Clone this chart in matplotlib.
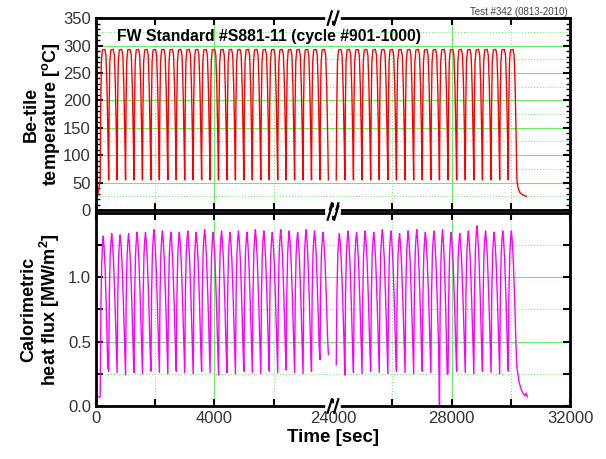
import matplotlib
matplotlib.use("Agg")
import matplotlib.pyplot as plt
import numpy as np

plt.rcParams['font.family'] = ['Liberation Sans', 'DejaVu Sans']

# cycle start times [sec]
left_starts = [150, 435, 720, 1005, 1290, 1575, 1860, 2145, 2430, 2715, 3000,
               3285, 3570, 3855, 4140, 4425, 4710, 4995, 5280, 5565, 5850,
               6135, 6420, 6705, 6990, 7275, 7560]
left_end = 7845
right_starts = [24110, 24400, 24690, 24980, 25270, 25560, 25850, 26140, 26430,
                26720, 27010, 27300, 27590, 27880, 28170, 28460, 28750, 29040,
                29330, 29620, 29910]
right_end = 30200

# one cycle profile (fraction of period)
temp_phase = [0.0, 0.06, 0.14, 0.26, 0.55, 0.68, 0.80, 0.92, 1.0]
temp_shape = [55, 190, 270, 292, 293, 282, 225, 130, 55]
flux_phase = [0.0, 0.08, 0.18, 0.28, 0.36, 0.46, 0.58, 0.74, 0.90, 1.0]
flux_shape = [0.0, 0.55, 0.84, 0.95, 1.0, 0.93, 0.80, 0.52, 0.18, 0.0]

# heat flux peak / trough per cycle
left_peaks = [1.32, 1.34, 1.33, 1.34, 1.35, 1.35, 1.37, 1.36, 1.35, 1.35, 1.36,
              1.35, 1.37, 1.35, 1.36, 1.35, 1.36, 1.35, 1.37, 1.36, 1.35,
              1.37, 1.36, 1.35, 1.37, 1.36, 1.35]
left_troughs = [0.07, 0.27, 0.26, 0.24, 0.26, 0.25, 0.27, 0.26, 0.25, 0.27, 0.26,
                0.25, 0.27, 0.26, 0.24, 0.26, 0.25, 0.27, 0.26, 0.25, 0.27,
                0.26, 0.28, 0.26, 0.25, 0.27, 0.36]
right_peaks = [1.34, 1.36, 1.35, 1.36, 1.35, 1.37, 1.36, 1.34, 1.36, 1.37, 1.35,
               1.36, 1.37, 1.35, 1.34, 1.36, 1.40, 1.36, 1.35, 1.36, 1.36]
right_troughs = [0.32, 0.24, 0.26, 0.25, 0.27, 0.26, 0.25, 0.27, 0.26, 0.25, 0.27,
                 0.26, 0.0, 0.25, 0.27, 0.26, 0.25, 0.27, 0.26, 0.25, 0.27]

# start / end pieces
temp_pre_t = [0, 60, 150]
temp_pre_v = [25, 25, 55]
temp_tail_t = [30200, 30240, 30300, 30380, 30460, 30520]
temp_tail_v = [55, 40, 32, 28, 26, 25]
flux_pre_t = [0, 60, 150]
flux_pre_v = [0.07, 0.07, 0.07]
flux_tail_t = [30200, 30280, 30360, 30430, 30480, 30520, 30550]
flux_tail_v = [0.30, 0.18, 0.12, 0.09, 0.08, 0.10, 0.07]

GAP = 16000  # 8000 -> 24000 axis break


def build(starts, end, phase, shape, base=None, amp=None):
    t, v = [], []
    stops = starts[1:] + [end]
    for i, (s, e) in enumerate(zip(starts, stops)):
        ph = np.array(phase)
        sh = np.array(shape, dtype=float)
        if base is not None:
            lo = base[i]
            sh = sh * (amp[i] - lo) + lo
        t.extend(s + ph[:-1] * (e - s))
        v.extend(sh[:-1])
    return np.array(t), np.array(v)


tl, vl = build(left_starts, left_end, temp_phase, temp_shape)
tr, vr = build(right_starts, right_end, temp_phase, temp_shape)
temp_left_t = np.concatenate([temp_pre_t, tl, [left_end]])
temp_left_v = np.concatenate([temp_pre_v, vl, [55]])
temp_right_t = np.concatenate([tr, temp_tail_t]) - GAP
temp_right_v = np.concatenate([vr, temp_tail_v])

fl_t, fl_v = build(left_starts, left_end, flux_phase, flux_shape, left_troughs, left_peaks)
fr_t, fr_v = build(right_starts, right_end, flux_phase, flux_shape, right_troughs, right_peaks)
flux_left_t = np.concatenate([flux_pre_t, fl_t, [left_end]])
flux_left_v = np.concatenate([flux_pre_v, fl_v, [0.40]])
flux_right_t = np.concatenate([fr_t, flux_tail_t]) - GAP
flux_right_v = np.concatenate([fr_v, flux_tail_v])

fig = plt.figure(figsize=(6.06, 4.59), dpi=100)
ax1 = fig.add_axes([0.158, 0.5425, 0.783, 0.418])
ax2 = fig.add_axes([0.158, 0.1155, 0.783, 0.4205])

ax1.plot(temp_left_t, temp_left_v, color='#ff0000', lw=1.0)
ax1.plot(temp_right_t, temp_right_v, color='#ff0000', lw=1.0)
ax2.plot(flux_left_t, flux_left_v, color='#ff00ff', lw=1.0)
ax2.plot(flux_right_t, flux_right_v, color='#ff00ff', lw=1.0)

xticks = [0, 2000, 4000, 6000, 8000, 10000, 12000, 14000, 16000]
xlabels = ['0', '', '4000', '', '24000', '', '28000', '', '32000']
green = '#66ee66'

for ax in (ax1, ax2):
    ax.set_xlim(0, 16000)
    ax.set_xticks(xticks)
    for x in [4000, 12000]:
        ax.axvline(x, color=green, lw=0.8, zorder=0)
    for x in [2000, 6000, 10000, 14000]:
        ax.axvline(x, color=green, lw=0.7, ls=(0, (1, 2)), zorder=0)
    ax.tick_params(direction='in', top=True, right=True, length=5, width=1.5,
                   labelsize=12, labelcolor='#333333')
    ax.tick_params(which='minor', direction='in', top=False, right=True,
                   left=True, length=3, width=1)
    for sp in ax.spines.values():
        sp.set_linewidth(2)

ax1.set_xticklabels([])
ax2.set_xticklabels(xlabels)

ax1.set_ylim(0, 350)
ax1.set_yticks(np.arange(0, 351, 50))
ax1.set_yticks(np.arange(0, 351, 10), minor=True)
for y in range(50, 350, 50):
    ax1.axhline(y, color=green, lw=0.8, zorder=0)
for y in range(25, 350, 50):
    ax1.axhline(y, color=green, lw=0.7, ls=(0, (1, 2)), zorder=0)

ax2.set_ylim(0, 1.5)
ax2.set_yticks([0.0, 0.5, 1.0])
ax2.set_yticklabels(['0.0', '0.5', '1.0'])
ax2.set_yticks([0.25, 0.75, 1.25], minor=True)
ax2.tick_params(which='minor', length=5, width=1.5)
for y in [0.5, 1.0]:
    ax2.axhline(y, color=green, lw=0.8, zorder=0)
for y in [0.25, 0.75, 1.25]:
    ax2.axhline(y, color=green, lw=0.7, ls=(0, (1, 2)), zorder=0)

ax1.set_ylabel('Be-tile\ntemperature [$^{\\mathregular{o}}$C]', fontsize=13,
               fontweight='bold', linespacing=1.0)
ax2.set_ylabel('Calorimetric\nheat flux [MW/m$^{\\mathregular{2}}$]', fontsize=13,
               fontweight='bold', linespacing=1.0)
ax2.set_xlabel('Time [sec]', fontsize=13.5, fontweight='bold', labelpad=2)
ax1.yaxis.set_label_coords(-0.072, 0.5)
ax2.yaxis.set_label_coords(-0.072, 0.5)

ax1.text(0.045, 0.905, 'FW Standard #S881-11 (cycle #901-1000)', transform=ax1.transAxes,
         fontsize=11.3, fontweight='bold', va='center')
fig.text(0.937, 0.985, 'Test #342 (0813-2010)', fontsize=7, color='#444444',
         ha='right', va='top')

# axis break marks
for ax in (ax1, ax2):
    for yy in (1.0, 0.0):
        ax.plot([7820, 8180], [yy, yy], transform=ax.get_xaxis_transform(),
                color='white', lw=4, clip_on=False, zorder=5)
        for dx in (-110, 110):
            ax.plot([7930 + dx, 8070 + dx], [yy - 0.035, yy + 0.035],
                    transform=ax.get_xaxis_transform(), color='black', lw=1.6,
                    clip_on=False, zorder=6)

fig.savefig('out.png', dpi=100)
